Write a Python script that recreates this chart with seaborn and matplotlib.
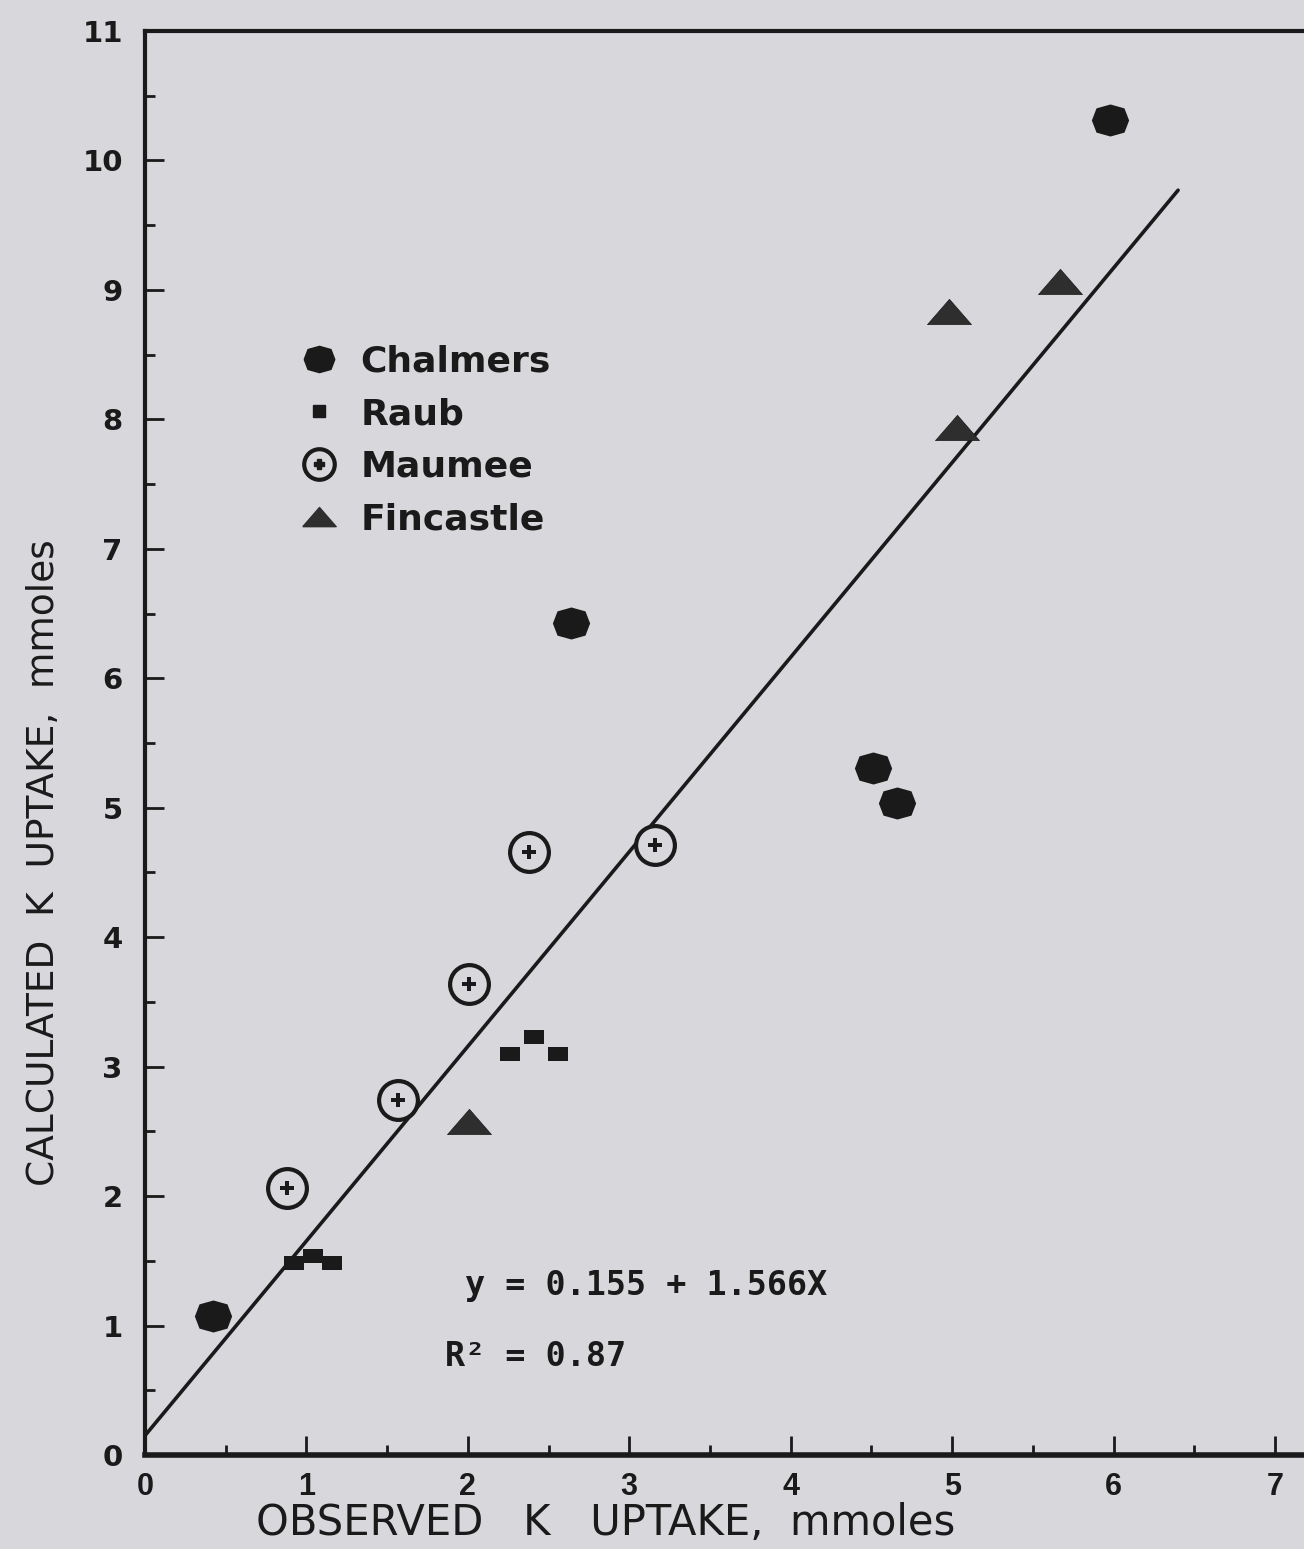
import matplotlib
matplotlib.use("Agg")
import matplotlib.pyplot as plt
from matplotlib.lines import Line2D
import seaborn as sns

# values
chalmers_x = [5.98, 2.64, 4.51, 4.66, 0.42]
chalmers_y = [10.31, 6.43, 5.31, 5.04, 1.07]

raub_x = [2.26, 2.41, 2.56, 0.92, 1.04, 1.16]
raub_y = [3.10, 3.23, 3.10, 1.48, 1.54, 1.48]

maumee_x = [2.38, 3.16, 2.01, 1.57, 0.88]
maumee_y = [4.66, 4.71, 3.64, 2.74, 2.06]

fincastle_x = [5.67, 4.98, 5.03, 2.01]
fincastle_y = [9.06, 8.83, 7.93, 2.57]

fit_x = [0.0, 6.40]
fit_y = [0.15, 9.77]

x_ticks = [0, 1, 2, 3, 4, 5, 6, 7]
y_ticks = [0, 1, 2, 3, 4, 5, 6, 7, 8, 9, 10, 11]

eq_text = "y = 0.155 + 1.566X"
r2_text = "R² = 0.87"

bg = "#d8d7db"
ink = "#1a1a1a"

# squashed shapes like the scanned symbols
tri = [(-1, -0.55), (1, -0.55), (0, 0.6), (-1, -0.55)]
rect = [(-1, -0.7), (1, -0.7), (1, 0.7), (-1, 0.7), (-1, -0.7)]
oval = [(-1, 0), (-0.75, 0.65), (0, 0.86), (0.75, 0.65), (1, 0), (0.75, -0.65),
        (0, -0.86), (-0.75, -0.65), (-1, 0)]

sns.set_style("ticks")
plt.rcParams['font.family'] = ['DejaVu Sans']

fig = plt.figure(figsize=(13.04, 15.49), dpi=100, facecolor=bg)
ax = fig.add_axes([0.1112, 0.0607, 0.8888, 0.9193], facecolor=bg)

sns.lineplot(x=fit_x, y=fit_y, ax=ax, color=ink, lw=2.6, zorder=2)

sns.scatterplot(x=chalmers_x, y=chalmers_y, ax=ax, marker=oval, s=720,
                color=ink, edgecolor=ink, linewidth=0, zorder=3)
sns.scatterplot(x=raub_x, y=raub_y, ax=ax, marker=rect, s=200,
                color=ink, edgecolor=ink, linewidth=0, zorder=3)
sns.scatterplot(x=maumee_x, y=maumee_y, ax=ax, marker='o', s=780,
                facecolor=bg, edgecolor=ink, linewidth=3, zorder=4)
sns.scatterplot(x=maumee_x, y=maumee_y, ax=ax, marker='P', s=90,
                color=ink, edgecolor=ink, linewidth=0, zorder=5)
sns.scatterplot(x=fincastle_x, y=fincastle_y, ax=ax, marker=tri, s=1000,
                color="#2e2e2e", edgecolor=ink, linewidth=0.5, zorder=3)

ax.set_xlim(0, 7.18)
ax.set_ylim(0, 11)
ax.set_xticks(x_ticks)
ax.set_yticks(y_ticks)
ax.set_xticks([v + 0.5 for v in x_ticks[:-1]], minor=True)
ax.set_yticks([v + 0.5 for v in y_ticks[:-1]], minor=True)
ax.tick_params(axis='both', which='major', direction='in', length=14, width=2, color=ink)
ax.tick_params(axis='both', which='minor', direction='in', length=7, width=2, color=ink)
ax.tick_params(axis='y', labelsize=21, pad=16, labelcolor=ink)
ax.tick_params(axis='x', labelsize=22, pad=12, labelcolor=ink)
for lab in ax.get_xticklabels():
    lab.set_family('Liberation Sans')
    lab.set_fontweight('bold')
for lab in ax.get_yticklabels():
    lab.set_fontweight('bold')

sns.despine(ax=ax, top=False, right=True)
ax.spines['left'].set_linewidth(3)
ax.spines['top'].set_linewidth(3)
ax.spines['bottom'].set_linewidth(4)
for s in ['left', 'top', 'bottom']:
    ax.spines[s].set_color(ink)

ax.set_xlabel("OBSERVED   K   UPTAKE,  mmoles", fontsize=30, color=ink)
ax.xaxis.set_label_coords(0.397, -0.033)
ax.set_ylabel("CALCULATED  K  UPTAKE,  mmoles", fontsize=27, color=ink)
ax.yaxis.set_label_coords(-0.072, 0.416)

ax.text(1.98, 1.31, eq_text, fontsize=24, va='center', color=ink,
        family='DejaVu Sans Mono', fontweight='bold')
ax.text(1.86, 0.76, r2_text, fontsize=24, va='center', color=ink,
        family='DejaVu Sans Mono', fontweight='bold')

handles = [
    Line2D([], [], marker=oval, ls='', color=ink, markersize=22),
    Line2D([], [], marker='s', ls='', color=ink, markersize=9),
    (Line2D([], [], marker='o', ls='', markerfacecolor=bg, markeredgecolor=ink,
            markeredgewidth=3, markersize=22),
     Line2D([], [], marker='P', ls='', color=ink, markersize=7)),
    Line2D([], [], marker=tri, ls='', color="#2e2e2e", markersize=24),
]
labels = ["Chalmers", "Raub", "Maumee", "Fincastle"]
leg = ax.legend(handles, labels, loc='upper left', bbox_to_anchor=(0.13, 0.78),
                frameon=False, labelspacing=0.52, handletextpad=0.5,
                borderaxespad=0, borderpad=0, handlelength=1.3,
                prop={'weight': 'bold', 'size': 26})
for t in leg.get_texts():
    t.set_color(ink)

fig.savefig("out.png", dpi=100, facecolor=bg)
